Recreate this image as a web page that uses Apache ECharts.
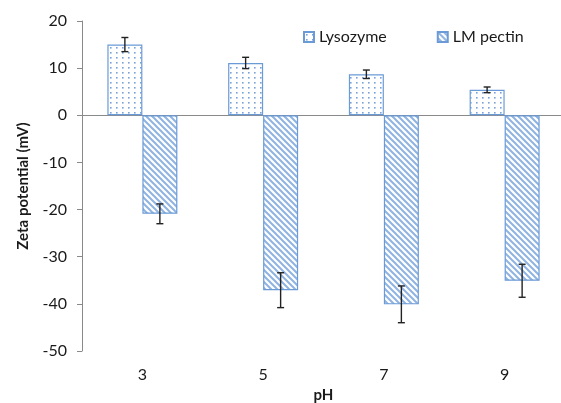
<!DOCTYPE html>
<html>
<head>
<meta charset="utf-8">
<script src="https://cdn.jsdelivr.net/npm/echarts@6/dist/echarts.min.js"></script>
<style>html,body{margin:0;padding:0;background:#fff}#c{width:561px;height:403px}</style>
</head>
<body>
<div id="c"></div>
<script>
var categories = ['3', '5', '7', '9'];
var lysozyme = [15.0, 11.1, 8.7, 5.4];
var lysozymeErr = [1.5, 1.2, 0.9, 0.6];
var pectin = [-20.9, -37.1, -40.1, -35.1];
var pectinErr = [2.1, 3.7, 3.9, 3.5];
var yTicks = [-50, -40, -30, -20, -10, 0, 10, 20];

function dotPattern() {
  var c = document.createElement('canvas');
  c.width = 6; c.height = 5;
  var x = c.getContext('2d');
  x.fillStyle = '#ffffff'; x.fillRect(0, 0, 6, 5);
  x.fillStyle = '#79a2d8'; x.fillRect(2, 2, 1.6, 1.6);
  return c;
}
function stripePattern() {
  var s = 6;
  var c = document.createElement('canvas');
  c.width = s; c.height = s;
  var x = c.getContext('2d');
  x.fillStyle = '#ffffff'; x.fillRect(0, 0, s, s);
  x.strokeStyle = '#8fb3e2'; x.lineWidth = 2;
  x.beginPath();
  x.moveTo(-1, -1); x.lineTo(s + 1, s + 1);
  x.moveTo(-1, s - 1); x.lineTo(1, s + 1);
  x.moveTo(s - 1, -1); x.lineTo(s + 1, 1);
  x.stroke();
  return c;
}
var BW = 35;
var border = '#6b9bd6';

function errSeries(vals, errs, off) {
  var data = vals.map(function (v, i) { return [i, v, errs[i]]; });
  return {
    type: 'custom',
    silent: true,
    z: 10,
    data: data,
    renderItem: function (params, api) {
      var i = api.value(0), v = api.value(1), e = api.value(2);
      var hi = api.coord([i, v + e]);
      var lo = api.coord([i, v - e]);
      var x = hi[0] + off;
      var cw = 3.5;
      var st = { stroke: '#222', lineWidth: 1.4 };
      return {
        type: 'group',
        children: [
          { type: 'line', shape: { x1: x, y1: hi[1], x2: x, y2: lo[1] }, style: st },
          { type: 'line', shape: { x1: x - cw, y1: hi[1], x2: x + cw, y2: hi[1] }, style: st },
          { type: 'line', shape: { x1: x - cw, y1: lo[1], x2: x + cw, y2: lo[1] }, style: st }
        ]
      };
    }
  };
}

var chart = echarts.init(document.getElementById('c'), null, { renderer: 'canvas' });
var font = 'Lato';
chart.setOption({
  animation: false,
  backgroundColor: '#ffffff',
  textStyle: { fontFamily: font },
  grid: { left: 82, right: -4, top: 21, bottom: 52, containLabel: false, outerBoundsMode: 'none' },
  legend: {
    left: 298, top: 24,
    itemWidth: 10, itemHeight: 10, itemGap: 50,
    textStyle: { fontFamily: font, fontSize: 16, color: '#1a1a1a' },
    data: [
      { name: 'Lysozyme', icon: 'rect' },
      { name: 'LM pectin', icon: 'rect' }
    ]
  },
  xAxis: [{
    type: 'category',
    data: categories,
    name: 'pH',
    nameLocation: 'middle',
    nameGap: 34,
    nameTextStyle: { fontFamily: font, fontWeight: 'bold', fontSize: 15, color: '#1a1a1a' },
    axisLine: { show: false, onZero: false },
    axisTick: { show: false },
    axisLabel: { fontFamily: font, fontSize: 16, color: '#1a1a1a', margin: 16 }
  }, {
    type: 'category',
    data: categories,
    axisLine: { show: true, onZero: true, lineStyle: { color: '#8a8a8a', width: 1 } },
    axisTick: { show: false },
    axisLabel: { show: false }
  }],
  yAxis: {
    type: 'value',
    min: yTicks[0], max: yTicks[yTicks.length - 1], interval: 10,
    name: 'Zeta potential (mV)',
    nameLocation: 'middle',
    nameGap: 51,
    nameTextStyle: { fontFamily: font, fontWeight: 'bold', fontSize: 15, color: '#1a1a1a' },
    axisLine: { show: true, lineStyle: { color: '#8a8a8a', width: 1 } },
    axisTick: { show: true, length: 5, lineStyle: { color: '#8a8a8a' } },
    axisLabel: { fontFamily: font, fontSize: 16, color: '#1a1a1a', margin: 15 },
    splitLine: { show: false }
  },
  series: [
    {
      name: 'Lysozyme', type: 'bar', barWidth: BW, barGap: '0%',
      data: lysozyme,
      itemStyle: { color: { image: dotPattern(), repeat: 'repeat' }, borderColor: border, borderWidth: 1.2 }
    },
    {
      name: 'LM pectin', type: 'bar', barWidth: BW, barGap: '0%',
      data: pectin,
      itemStyle: { color: { image: stripePattern(), repeat: 'repeat' }, borderColor: border, borderWidth: 1.2 }
    },
    errSeries(lysozyme, lysozymeErr, -BW / 2),
    errSeries(pectin, pectinErr, BW / 2)
  ]
});
</script>
</body>
</html>
